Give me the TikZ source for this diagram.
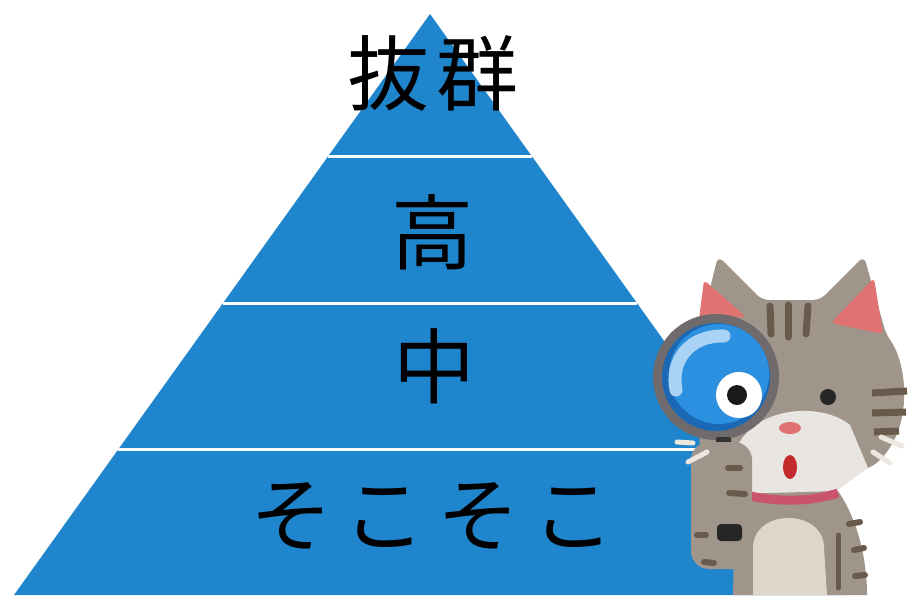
\documentclass[tikz,border=0pt]{standalone}
\usepackage{fontspec}
\newfontfamily\jpfont{Noto Sans CJK JP}
\usetikzlibrary{calc}
\definecolor{pyrblue}{HTML}{1F86CD}
\definecolor{catgray}{HTML}{A0958A}
\definecolor{stripe}{HTML}{6A5A4C}
\definecolor{earpink}{HTML}{E07272}
\definecolor{muzzle}{HTML}{E9E5E1}
\definecolor{belly}{HTML}{DCD6CB}
\definecolor{collar}{HTML}{C9546C}
\definecolor{mouthred}{HTML}{C22A2C}
\definecolor{rimgray}{HTML}{6F6A6B}
\definecolor{lensblue}{HTML}{2C90E0}
\definecolor{lensdark}{HTML}{1B68B5}
\definecolor{lenslight}{HTML}{A9D2F5}
\definecolor{whisker}{HTML}{ECE8E0}
\tikzset{
  level/.style={font=\jpfont\fontsize{82}{82}\selectfont, anchor=base, text=black, inner sep=0pt},
  bandline/.style={draw=white, line width=3pt},
  stripemark/.style={draw=stripe, line width=7pt, line cap=round},
  whiskermark/.style={draw=whisker, line width=5pt, line cap=round}
}
\begin{document}
\begin{tikzpicture}[x=1pt,y=-1pt]
\useasboundingbox (0,0) rectangle (909,595);
\fill[white] (0,0) rectangle (909,595);

% pyramid
\coordinate (apex) at (430,14);
\coordinate (bl) at (14,595);
\coordinate (br) at (846,595);
\fill[pyrblue] (apex) -- (bl) -- (br) -- cycle;
\draw[bandline] ($(apex)!0.2444!(bl)$) -- ($(apex)!0.2444!(br)$);
\draw[bandline] ($(apex)!0.4974!(bl)$) -- ($(apex)!0.4974!(br)$);
\draw[bandline] ($(apex)!0.7504!(bl)$) -- ($(apex)!0.7504!(br)$);

% level labels
\node[level] (top) at (433,104) {抜\hspace{8pt}群};
\node[level] (high) at (432,263) {高};
\node[level] (mid) at (434,397) {中};
\node[level] (low) at (432,545) {そ\hspace{12pt}こ\hspace{12pt}そ\hspace{12pt}こ};

% cat: head
\fill[catgray, rounded corners=7pt] (696,345) -- (718,256) -- (762,300) -- (820,300) -- (864,256) -- (886,334)
  .. controls (908,365) and (914,430) .. (872,467) -- (760,497) -- (700,450) -- cycle;
% inner ears
\fill[earpink, rounded corners=4pt] (704,280) -- (699,319) -- (746,317) -- cycle;
\fill[earpink, rounded corners=4pt] (874,278) -- (831,323) -- (883,334) -- cycle;
% forehead stripes
\draw[stripemark] (770,306) -- (771,334);
\draw[stripemark] (788,305) -- (788,337);
\draw[stripemark] (808,306) -- (806,334);
% cheek stripes
\draw[stripemark, line cap=butt] (872,393) -- (907,391);
\draw[stripemark, line cap=butt] (872,413) -- (906,412);
\draw[stripemark, line cap=butt] (874,432) -- (899,431);
% muzzle
\fill[muzzle] (738,445) .. controls (758,406) and (822,402) .. (850,425) -- (868,468) -- (836,491) -- (752,494) -- (736,460) -- cycle;
% nose, mouth, eye
\fill[earpink] (790,428) ellipse [x radius=11pt, y radius=6pt];
\fill[mouthred] (790,467) ellipse [x radius=7pt, y radius=12pt];
\fill[black!85] (828,397) circle [radius=8pt];

% body
\fill[catgray] (735,494) -- (838,491) .. controls (858,520) and (867,560) .. (867,595) -- (733,595) -- cycle;
\fill[belly] (753,595) -- (753,548) .. controls (753,508) and (824,508) .. (824,548) -- (827,595) -- cycle;
\draw[stripe, line width=5pt, line cap=round] (838,535) -- (838,588);
\draw[stripemark, line width=6pt] (849,524) -- (860,522);
\draw[stripemark, line width=6pt] (854,550) -- (864,548);
\draw[stripemark, line width=6pt] (855,576) -- (865,575);
\draw[stripe, line width=5pt, line cap=round] (741,520) -- (741,560);
% collar
\draw[collar, line width=9pt] (750,496) .. controls (780,502) and (810,502) .. (838,493);

% magnifier
\fill[rimgray] (716,377) circle [radius=63pt];
\fill[lensdark] (716,377) circle [radius=54pt];
\fill[lensblue] (719,374) circle [radius=50pt];
\draw[lenslight, line width=13pt, line cap=round] (676,390) .. controls (670,360) and (690,335) .. (724,336);
\fill[white] (739,395) circle [radius=23pt];
\fill[black!90] (737,395) circle [radius=10pt];
\fill[black!80, rounded corners=2pt] (716,437) rectangle (731,448);

% paw holding the handle
\fill[catgray, rounded corners=18pt] (691,442) rectangle (752,569);
\fill[black!85, rounded corners=4pt] (717,524) rectangle (742,541);
\draw[stripemark, line width=6pt] (728,468) -- (740,468);
\draw[stripemark, line width=6pt] (729,493) -- (745,494);
\draw[stripemark, line width=6pt] (697,535) -- (706,535);
\draw[stripemark, line width=6pt] (704,562) -- (714,563);

% whiskers
\draw[whiskermark] (677,442) -- (693,443);
\draw[whiskermark] (688,462) -- (707,452);
\draw[whiskermark] (881,437) -- (902,446);
\draw[whiskermark] (873,452) -- (890,463);
\end{tikzpicture}
\end{document}
